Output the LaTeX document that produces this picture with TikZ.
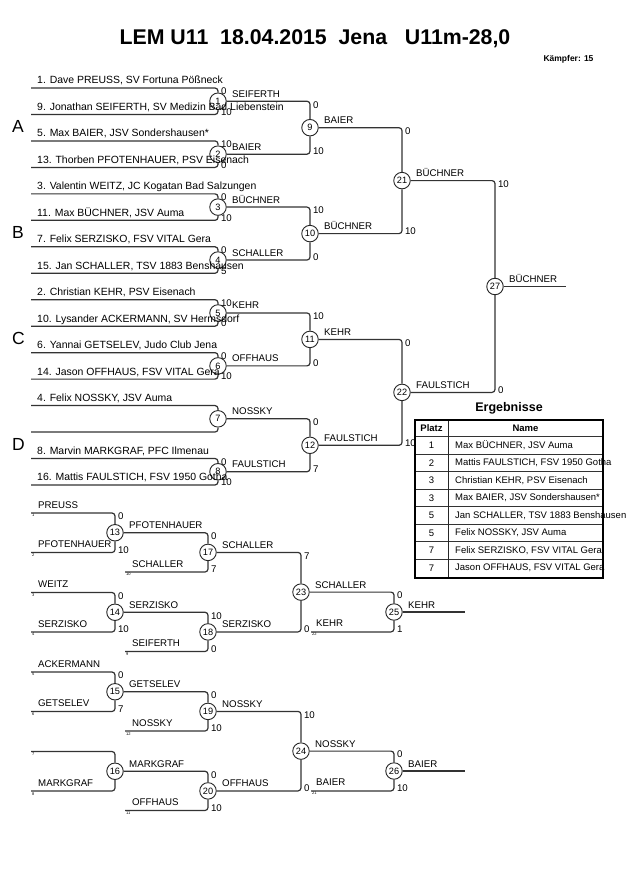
\documentclass[tikz,border=0pt]{standalone}
\usepackage{fontspec}
\setmainfont{Liberation Sans}
\newcommand{\rone}[8]{%
  \node[bc] (m#1) at (218,{(#2+#3)/2}) {#1};
  \coordinate (t#1) at (31,#2);
  \coordinate (u#1) at (31,#3);
  \draw[ln] (t#1) -| (m#1) node[tsc] {#6};
  \draw[ln] (u#1) -| (m#1) node[bsc] {#7};
  \node[nm] (nt#1) at ([xshift=6pt,yshift=4pt]t#1) {#4};
  \node[nm] (nu#1) at ([xshift=6pt,yshift=4pt]u#1) {#5};
  \node[lb] (w#1) at ([xshift=14pt,yshift=4pt]m#1.center) {#8};
}
\newcommand{\jm}[8]{%
  \node[bc] (m#1) at (#2,#3) {#1};
  \draw[ln] (#4) -| (m#1) node[tsc] {#6};
  \draw[ln] (#5) -| (m#1) node[bsc] {#7};
  \node[lb] (w#1) at ([xshift=14pt,yshift=4pt]m#1.center) {#8};
}
\newcommand{\ent}[5]{%
  \coordinate (#1) at (#2,#3);
  \node[lb] (l#1) at ([xshift=7pt,yshift=5pt]#1) {#4};
  \node[tinyn] (s#1) at ([xshift=1pt,yshift=-1pt]#1) {#5};
}
\newcommand{\trow}[3]{%
  \node[tpl] (rkA#1) at (431.5,{436.7+17.5*(#1-0.5)}) {#2};
  \node[tnm] (rkB#1) at (455,{436.7+17.5*(#1-0.5)}) {#3};
}
\begin{document}
\begin{tikzpicture}[x=1pt,y=-1pt,
  ln/.style={draw=black!80,line width=1.2pt,rounded corners=3pt},
  bc/.style={circle,draw=black!85,line width=0.9pt,fill=white,minimum size=16.5pt,inner sep=0pt,font=\fontsize{9.2}{9}\selectfont},
  nm/.style={anchor=base west,inner sep=0pt,font=\fontsize{10.45}{12}\selectfont},
  lb/.style={anchor=base west,inner sep=0pt,font=\fontsize{9.7}{11}\selectfont},
  tsc/.style={pos=0.5,anchor=north west,xshift=2.5pt,yshift=0.5pt,inner sep=0pt,font=\fontsize{9.7}{11}\selectfont},
  bsc/.style={pos=0.5,anchor=south west,xshift=2.5pt,yshift=-1.5pt,inner sep=0pt,font=\fontsize{9.7}{11}\selectfont},
  tinyn/.style={anchor=north west,inner sep=0pt,font=\fontsize{4}{4}\selectfont},
  grp/.style={anchor=base west,inner sep=0pt,font=\fontsize{17.5}{18}\selectfont},
  tpl/.style={inner sep=0pt,font=\fontsize{9.5}{11}\selectfont},
  tnm/.style={anchor=west,inner sep=0pt,font=\fontsize{9.5}{11}\selectfont},
]
\useasboundingbox[fill=white] (0,0) rectangle (630,891);

\node[font=\bfseries\fontsize{21.3}{22}\selectfont] (title) at (315,39) {LEM U11\ \ 18.04.2015\ \ Jena\ \ \ U11m-28,0};
\node[anchor=east,font=\bfseries\fontsize{8.5}{9}\selectfont] (kaempfer) at (597,59) {Kämpfer: 15};

% ---------- main bracket, round 1
\rone{1}{88}{114.47}{1. Dave PREUSS, SV Fortuna Pößneck}{9. Jonathan SEIFERTH, SV Medizin Bad Liebenstein}{0}{10}{SEIFERTH}
\rone{2}{140.93}{167.4}{5. Max BAIER, JSV Sondershausen*}{13. Thorben PFOTENHAUER, PSV Eisenach}{10}{0}{BAIER}
\rone{3}{193.86}{220.33}{3. Valentin WEITZ, JC Kogatan Bad Salzungen}{11. Max BÜCHNER, JSV Auma}{0}{10}{BÜCHNER}
\rone{4}{246.79}{273.26}{7. Felix SERZISKO, FSV VITAL Gera}{15. Jan SCHALLER, TSV 1883 Benshausen}{0}{5}{SCHALLER}
\rone{5}{299.72}{326.19}{2. Christian KEHR, PSV Eisenach}{10. Lysander ACKERMANN, SV Hermsdorf}{10}{0}{KEHR}
\rone{6}{352.65}{379.12}{6. Yannai GETSELEV, Judo Club Jena}{14. Jason OFFHAUS, FSV VITAL Gera}{0}{10}{OFFHAUS}
\rone{7}{405.58}{432.05}{4. Felix NOSSKY, JSV Auma}{}{}{}{NOSSKY}
\rone{8}{458.51}{484.98}{8. Marvin MARKGRAF, PFC Ilmenau}{16. Mattis FAULSTICH, FSV 1950 Gotha}{0}{10}{FAULSTICH}

% ---------- main bracket, later rounds
\jm{9}{310}{127.7}{m1}{m2}{0}{10}{BAIER}
\jm{10}{310}{233.6}{m3}{m4}{10}{0}{BÜCHNER}
\jm{11}{310}{339.4}{m5}{m6}{10}{0}{KEHR}
\jm{12}{310}{445.3}{m7}{m8}{0}{7}{FAULSTICH}
\jm{21}{402}{180.6}{m9}{m10}{0}{10}{BÜCHNER}
\jm{22}{402}{392.4}{m11}{m12}{0}{10}{FAULSTICH}
\jm{27}{495}{286.5}{m21}{m22}{10}{0}{BÜCHNER}
\coordinate (e27) at (566,286.5);
\draw[ln] (m27) -- (e27);

\node[grp] (gA) at (12,132.7) {A};
\node[grp] (gB) at (12,238.6) {B};
\node[grp] (gC) at (12,344.4) {C};
\node[grp] (gD) at (12,450.3) {D};

% ---------- repechage
\ent{r1a}{31}{513}{PREUSS}{1}
\ent{r1b}{31}{552.5}{PFOTENHAUER}{2}
\ent{r1c}{125}{572}{SCHALLER}{10}
\jm{13}{115}{532.75}{r1a}{r1b}{0}{10}{PFOTENHAUER}
\jm{17}{208}{552.4}{m13}{r1c}{0}{7}{SCHALLER}

\ent{r2a}{31}{592.5}{WEITZ}{3}
\ent{r2b}{31}{632}{SERZISKO}{4}
\ent{r2c}{125}{651.5}{SEIFERTH}{9}
\jm{14}{115}{612.25}{r2a}{r2b}{0}{10}{SERZISKO}
\jm{18}{208}{631.9}{m14}{r2c}{10}{0}{SERZISKO}

\jm{23}{301}{592.1}{m17}{m18}{7}{0}{SCHALLER}
\ent{r5c}{311}{631.9}{}{22}
\jm{25}{394}{612}{m23}{r5c}{0}{1}{KEHR}
\node[lb] (lr5c) at ([xshift=5pt,yshift=5pt]r5c) {KEHR};
\coordinate (e25) at (465,612);
\draw[ln] (m25) -- (e25);

\ent{r3a}{31}{672}{ACKERMANN}{5}
\ent{r3b}{31}{711.5}{GETSELEV}{6}
\ent{r3c}{125}{731}{NOSSKY}{12}
\jm{15}{115}{691.75}{r3a}{r3b}{0}{7}{GETSELEV}
\jm{19}{208}{711.4}{m15}{r3c}{0}{10}{NOSSKY}

\ent{r4a}{31}{751.5}{}{7}
\ent{r4b}{31}{791}{MARKGRAF}{8}
\ent{r4c}{125}{810.5}{OFFHAUS}{11}
\jm{16}{115}{771.25}{r4a}{r4b}{}{}{MARKGRAF}
\jm{20}{208}{790.9}{m16}{r4c}{0}{10}{OFFHAUS}

\jm{24}{301}{751.1}{m19}{m20}{10}{0}{NOSSKY}
\ent{r6c}{311}{790.9}{}{21}
\jm{26}{394}{771}{m24}{r6c}{0}{10}{BAIER}
\node[lb] (lr6c) at ([xshift=5pt,yshift=5pt]r6c) {BAIER};
\coordinate (e26) at (465,771);
\draw[ln] (m26) -- (e26);

% ---------- results table
\node[font=\bfseries\fontsize{12.5}{13}\selectfont] (erg) at (509,408) {Ergebnisse};
\fill[white] (415,420) rectangle (603,577.7);
\foreach \k in {0,...,7}
  \draw[black!80,line width=0.8pt] (415,{436.7+17.5*\k}) -- (603,{436.7+17.5*\k});
\draw[black!85,line width=0.8pt] (448,420) -- (448,577.7);
\node[font=\bfseries\fontsize{9.5}{11}\selectfont] (hdP) at (431.5,428.4) {Platz};
\node[font=\bfseries\fontsize{9.5}{11}\selectfont] (hdN) at (525.5,428.4) {Name};
\trow{1}{1}{Max BÜCHNER, JSV Auma}
\trow{2}{2}{Mattis FAULSTICH, FSV 1950 Gotha}
\trow{3}{3}{Christian KEHR, PSV Eisenach}
\trow{4}{3}{Max BAIER, JSV Sondershausen*}
\trow{5}{5}{Jan SCHALLER, TSV 1883 Benshausen}
\trow{6}{5}{Felix NOSSKY, JSV Auma}
\trow{7}{7}{Felix SERZISKO, FSV VITAL Gera}
\trow{8}{7}{Jason OFFHAUS, FSV VITAL Gera}
\draw[black,line width=1.8pt] (415,420) rectangle (603,577.7);
\end{tikzpicture}
\end{document}
